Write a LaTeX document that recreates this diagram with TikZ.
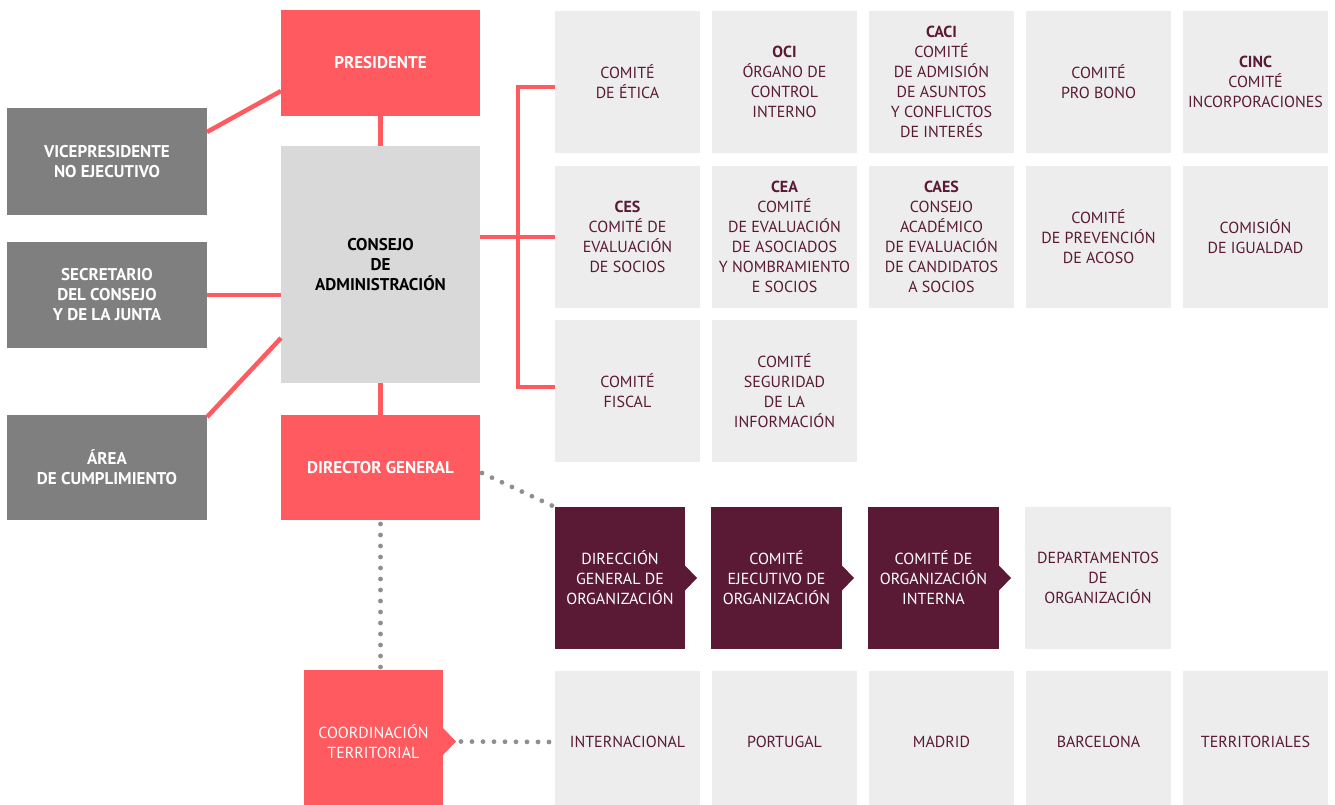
\documentclass[tikz,border=0pt]{standalone}
\usepackage{fontspec}
\setmainfont{PT Sans}
\usepackage{tikz}
\usetikzlibrary{positioning}
\definecolor{cred}{HTML}{FF5A5F}
\definecolor{cgray}{HTML}{7F7F7F}
\definecolor{cboard}{HTML}{D9D9D9}
\definecolor{ccom}{HTML}{EDEDED}
\definecolor{cplum}{HTML}{5A1A35}
\definecolor{cdot}{HTML}{8F8F8F}
\tikzset{
  orgbox/.style={inner sep=2pt, outer sep=0pt, align=center,
    font=\fontsize{16}{20}\selectfont},
  boldtext/.style={font=\fontsize{17}{20}\selectfont\bfseries},
  redbox/.style={orgbox, fill=cred, text=white},
  sidebox/.style={orgbox, boldtext, fill=cgray, text=white, minimum width=200pt},
  boardbox/.style={orgbox, boldtext, fill=cboard, text=black},
  combox/.style={orgbox, fill=ccom, text=cplum, minimum width=145pt,
    minimum height=142pt},
  orgstep/.style={orgbox, fill=cplum, text=white, minimum width=131pt,
    minimum height=142pt},
  redline/.style={draw=cred, line width=4.5pt},
  dotline/.style={draw=cdot, line width=4.8pt, line cap=round,
    dash pattern=on 0pt off 11pt}
}

\begin{document}
\begin{tikzpicture}[x=1pt, y=-1pt, node distance=13pt and 12pt]
  \useasboundingbox (0,0) rectangle (1335,805);

  % central column
  \node[redbox, boldtext, minimum width=199pt, minimum height=106pt]
    (pres) at (380.5,63) {PRESIDENTE};
  \node[boardbox, minimum width=199pt, minimum height=237pt, below=30pt of pres]
    (consejo) {CONSEJO\\DE\\ADMINISTRACIÓN};
  \node[redbox, boldtext, minimum width=199pt, minimum height=105pt,
    below=32pt of consejo] (dg) {DIRECTOR GENERAL};
  \node[redbox, minimum width=139pt, minimum height=143pt] (coord) at (373.5,741.5)
    {COORDINACIÓN\\TERRITORIAL};

  % left column
  \node[sidebox, minimum height=107pt] (vice) at (107,161.5) {VICEPRESIDENTE\\NO EJECUTIVO};
  \node[sidebox, minimum height=106pt] (secr) at (107,295) {SECRETARIO\\DEL CONSEJO\\Y DE LA JUNTA};
  \node[sidebox, minimum height=105pt] (area) at (107,467.5) {ÁREA\\DE CUMPLIMIENTO};

  % committees
  \node[combox, anchor=north west] (etica) at (555,11) {COMITÉ\\DE ÉTICA};
  \node[combox, right=of etica] (oci) {\textbf{OCI}\\ÓRGANO DE\\CONTROL\\INTERNO};
  \node[combox, right=of oci] (caci) {\textbf{CACI}\\COMITÉ\\DE ADMISIÓN\\DE ASUNTOS\\Y CONFLICTOS\\DE INTERÉS};
  \node[combox, right=of caci] (probono) {COMITÉ\\PRO BONO};
  \node[combox, right=of probono] (cinc) {\textbf{CINC}\\COMITÉ\\INCORPORACIONES};

  \node[combox, below=of etica] (ces) {\textbf{CES}\\COMITÉ DE\\EVALUACIÓN\\DE SOCIOS};
  \node[combox, right=of ces] (cea) {\textbf{CEA}\\COMITÉ\\DE EVALUACIÓN\\DE ASOCIADOS\\Y NOMBRAMIENTO\\E SOCIOS};
  \node[combox, right=of cea] (caes) {\textbf{CAES}\\CONSEJO\\ACADÉMICO\\DE EVALUACIÓN\\DE CANDIDATOS\\A SOCIOS};
  \node[combox, right=of caes] (acoso) {COMITÉ\\DE PREVENCIÓN\\DE ACOSO};
  \node[combox, right=of acoso] (igualdad) {COMISIÓN\\DE IGUALDAD};

  \node[combox, below=12pt of ces] (fiscal) {COMITÉ\\FISCAL};
  \node[combox, right=of fiscal] (seguridad) {COMITÉ\\SEGURIDAD\\DE LA\\INFORMACIÓN};

  % organisation chain
  \node[orgstep, minimum width=130pt, anchor=north west] (dgo) at (555,507) {DIRECCIÓN\\GENERAL DE\\ORGANIZACIÓN};
  \node[orgstep, right=26pt of dgo] (ceo) {COMITÉ\\EJECUTIVO DE\\ORGANIZACIÓN};
  \node[orgstep, right=26pt of ceo] (coi) {COMITÉ DE\\ORGANIZACIÓN\\INTERNA};
  \node[combox, minimum width=146pt, right=26pt of coi] (deptos) {DEPARTAMENTOS\\DE\\ORGANIZACIÓN};

  % territories
  \node[combox, anchor=north west] (intl) at (555,671) {INTERNACIONAL};
  \node[combox, right=of intl] (portugal) {PORTUGAL};
  \node[combox, right=of portugal] (madrid) {MADRID};
  \node[combox, right=of madrid] (barcelona) {BARCELONA};
  \node[combox, right=of barcelona] (terr) {TERRITORIALES};

  % pointers
  \foreach \n in {dgo, ceo, coi}
    \fill[cplum] ([yshift=12.5pt]\n.east) -- ([xshift=12pt]\n.east)
      -- ([yshift=-12.5pt]\n.east) -- cycle;
  \fill[cred] ([yshift=13.5pt]coord.east) -- ([xshift=13pt]coord.east)
    -- ([yshift=-13.5pt]coord.east) -- cycle;
  \coordinate (ctip) at ([xshift=13pt]coord.east);

  % links
  \draw[redline] (pres.south) -- (consejo.north);
  \draw[redline] (consejo.south) -- (dg.north);
  \draw[redline] ([yshift=-24pt]vice.north east) -- ([yshift=-28pt]pres.west);
  \draw[redline] (secr.east) -- (secr.east -| consejo.west);
  \draw[redline] ([yshift=-2pt]area.north east) -- ([yshift=45pt]consejo.south west);
  \draw[redline] (ces.west -| consejo.east) -- (ces.west);
  \draw[redline] ([yshift=-5pt]etica.west) -- ++(-37,0) |- ([yshift=4pt]fiscal.west);

  \draw[dotline] ([xshift=2pt,yshift=-5.5pt]dg.east) -- (dgo.north west);
  \draw[dotline] ([yshift=-4pt]dg.south) -- ([yshift=-4pt]dg.south |- coord.north);
  \draw[dotline] ([xshift=5pt]ctip) -- ([xshift=-4pt]intl.west);
\end{tikzpicture}
\end{document}
